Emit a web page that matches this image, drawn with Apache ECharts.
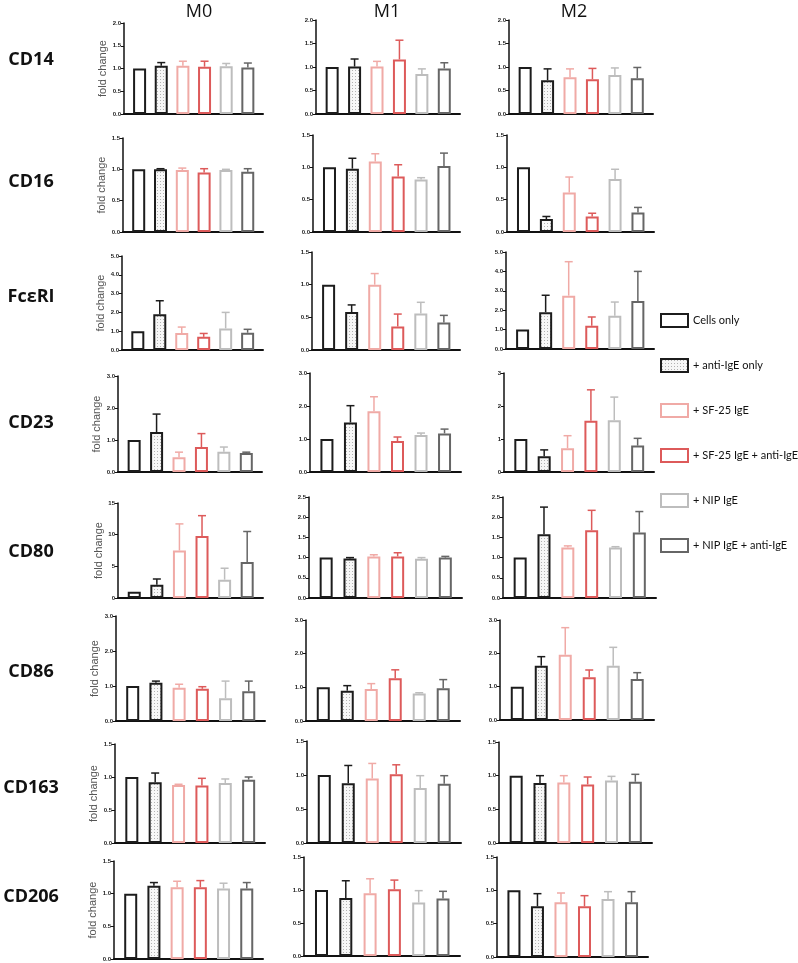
<!DOCTYPE html>
<html>
<head>
<meta charset="utf-8">
<script src="https://cdn.jsdelivr.net/npm/echarts@6/dist/echarts.min.js"></script>
<style>
html,body{margin:0;padding:0;background:#fff;}
#main{width:798px;height:963px;}
</style>
</head>
<body>
<div id="main"></div>
<script>
// ---------- DATA ----------
const categories = ['Cells only', '+ anti-IgE only', '+ SF-25 IgE', '+ SF-25 IgE + anti-IgE', '+ NIP IgE', '+ NIP IgE + anti-IgE'];
const groups = ['M0', 'M1', 'M2'];
const markers = ['CD14', 'CD16', 'FcεRI', 'CD23', 'CD80', 'CD86', 'CD163', 'CD206'];

// mean fold change, per marker: [M0, M1, M2]
const CD14_mean  = [[1.0, 1.06, 1.06, 1.04, 1.05, 1.02], [1.0, 1.01, 1.01, 1.16, 0.85, 0.97], [1.0, 0.72, 0.78, 0.74, 0.83, 0.76]];
const CD16_mean  = [[1.0, 1.0, 0.99, 0.95, 0.99, 0.96], [1.0, 0.98, 1.09, 0.86, 0.81, 1.02], [1.0, 0.20, 0.61, 0.24, 0.82, 0.30]];
const FceRI_mean = [[1.0, 1.90, 0.90, 0.70, 1.15, 0.92], [1.0, 0.58, 1.0, 0.36, 0.56, 0.42], [1.0, 1.90, 2.75, 1.20, 1.72, 2.48]];
const CD23_mean  = [[1.0, 1.25, 0.46, 0.78, 0.63, 0.59], [1.0, 1.50, 1.84, 0.94, 1.12, 1.17], [1.0, 0.48, 0.72, 1.55, 1.57, 0.80]];
const CD80_mean  = [[1.0, 2.1, 7.5, 9.8, 2.9, 5.7], [1.0, 0.98, 1.03, 1.03, 0.97, 1.0], [1.0, 1.58, 1.25, 1.68, 1.25, 1.62]];
const CD86_mean  = [[1.0, 1.09, 0.95, 0.92, 0.65, 0.85], [1.0, 0.90, 0.95, 1.27, 0.82, 0.97], [1.0, 1.63, 1.96, 1.28, 1.63, 1.23]];
const CD163_mean = [[1.0, 0.92, 0.88, 0.87, 0.91, 0.96], [1.0, 0.88, 0.95, 1.01, 0.81, 0.87], [1.0, 0.89, 0.90, 0.87, 0.93, 0.91]];
const CD206_mean = [[1.0, 1.12, 1.10, 1.10, 1.08, 1.08], [1.0, 0.88, 0.95, 1.01, 0.81, 0.87], [1.0, 0.76, 0.82, 0.76, 0.87, 0.82]];

// top of error bar (mean + error), null = no error bar
const CD14_err  = [[null, 1.13, 1.16, 1.16, 1.11, 1.12], [null, 1.17, 1.12, 1.57, 0.96, 1.09], [null, 0.96, 0.96, 0.97, 0.98, 0.99]];
const CD16_err  = [[null, 1.01, 1.02, 1.01, 1.0, 1.01], [null, 1.14, 1.21, 1.04, 0.84, 1.22], [null, 0.24, 0.85, 0.29, 0.97, 0.38]];
const FceRI_err = [[null, 2.62, 1.22, 0.88, 2.0, 1.10], [null, 0.69, 1.17, 0.55, 0.73, 0.53], [null, 2.77, 4.5, 1.65, 2.42, 4.0]];
const CD23_err  = [[null, 1.81, 0.62, 1.20, 0.78, 0.62], [null, 2.01, 2.28, 1.06, 1.18, 1.30], [null, 0.67, 1.10, 2.49, 2.27, 1.02]];
const CD80_err  = [[null, 3.0, 11.7, 13.0, 4.7, 10.5], [null, 1.0, 1.07, 1.12, 1.0, 1.03], [null, 2.25, 1.29, 2.17, 1.27, 2.14]];
const CD86_err  = [[null, 1.14, 1.05, 0.98, 1.14, 1.14], [null, 1.05, 1.11, 1.52, 0.84, 1.23], [null, 1.90, 2.77, 1.50, 2.18, 1.42]];
const CD163_err = [[null, 1.06, 0.89, 0.98, 0.97, 1.0], [null, 1.14, 1.17, 1.15, 0.99, 0.99], [null, 1.0, 1.0, 0.98, 0.99, 1.02]];
const CD206_err = [[null, 1.17, 1.19, 1.20, 1.16, 1.17], [null, 1.14, 1.17, 1.15, 0.99, 0.98], [null, 0.95, 0.96, 0.92, 0.98, 0.98]];

// y axis: [max, interval, label decimals]
const CD14_axis  = [[2, 0.5, 1], [2, 0.5, 1], [2, 0.5, 1]];
const CD16_axis  = [[1.5, 0.5, 1], [1.5, 0.5, 1], [1.5, 0.5, 1]];
const FceRI_axis = [[5, 1, 1], [1.5, 0.5, 1], [5, 1, 1]];
const CD23_axis  = [[3, 1, 1], [3, 1, 1], [3, 1, 0]];
const CD80_axis  = [[15, 5, 0], [2.5, 0.5, 1], [2.5, 0.5, 1]];
const CD86_axis  = [[3, 1, 1], [3, 1, 1], [3, 1, 1]];
const CD163_axis = [[1.5, 0.5, 1], [1.5, 0.5, 1], [1.5, 0.5, 1]];
const CD206_axis = [[1.5, 0.5, 1], [1.5, 0.5, 1], [1.5, 0.5, 1]];

const meanTable = [CD14_mean, CD16_mean, FceRI_mean, CD23_mean, CD80_mean, CD86_mean, CD163_mean, CD206_mean];
const errTable  = [CD14_err, CD16_err, FceRI_err, CD23_err, CD80_err, CD86_err, CD163_err, CD206_err];
const axisTable = [CD14_axis, CD16_axis, FceRI_axis, CD23_axis, CD80_axis, CD86_axis, CD163_axis, CD206_axis];

// ---------- LAYOUT / STYLE ----------
// per row, per column: [axisLeft, axisRight, top, bottom] in px
const layout = [
  [[124, 263, 23, 114], [316, 460, 20, 114], [509, 653, 20, 114]],
  [[123, 263, 138, 232], [313, 460, 135, 232], [507, 654, 135, 232]],
  [[122, 263, 256, 350], [312, 460, 252, 350], [506, 654, 252, 349]],
  [[118, 262, 376, 472], [310, 461, 373, 472], [504, 654, 373, 472]],
  [[118, 263, 503, 598], [309, 462, 497, 598], [503, 656, 497, 598]],
  [[116, 265, 616, 721], [306, 460, 620, 721], [500, 654, 620, 720]],
  [[115, 265, 744, 843], [307, 461, 741, 843], [499, 652, 742, 843]],
  [[114, 263, 861, 959], [304, 460, 857, 956], [497, 648, 857, 957]]
];
const rowLabelY = [60, 182, 297, 423, 552, 672, 788, 897];
const colTitleX = [199, 387, 574];
const colors = ['#1c1c1c', '#1c1c1c', '#f0aaa6', '#dd5a5a', '#bdbdbd', '#666666'];

// dotted pattern for "+ anti-IgE only"
const pat = document.createElement('canvas');
pat.width = 3; pat.height = 3;
(function () {
  const ctx = pat.getContext('2d');
  ctx.fillStyle = '#f7f7f7'; ctx.fillRect(0, 0, 3, 3);
  ctx.fillStyle = '#b2b2b2';
  ctx.fillRect(1, 1, 1, 1);
})();
const patternFill = { image: pat, repeat: 'repeat' };

const grids = [], xAxes = [], yAxes = [], series = [];
markers.forEach((mk, r) => {
  groups.forEach((gname, c) => {
    const g = r * 3 + c;
    const L = layout[r][c];
    const ax = axisTable[r][c];
    const means = meanTable[r][c];
    const errs = errTable[r][c];
    grids.push({ left: L[0], top: L[2], width: L[1] - L[0], height: L[3] - L[2] });
    xAxes.push({
      gridIndex: g, type: 'value', min: -0.72, max: 5.7,
      axisLine: { show: true, onZero: false, lineStyle: { color: '#111', width: 2 } },
      axisTick: { show: false }, axisLabel: { show: false }, splitLine: { show: false }
    });
    const dec = ax[2];
    yAxes.push({
      gridIndex: g, type: 'value', min: 0, max: ax[0], interval: ax[1],
      axisLine: { show: true, onZero: false, lineStyle: { color: '#111', width: 1.5 } },
      axisTick: { show: true, length: 3, lineStyle: { color: '#111', width: 1 } },
      axisLabel: { fontSize: 6, fontWeight: 'bold', color: '#222', margin: 3, fontFamily: 'Liberation Sans',
        formatter: v => v.toFixed(dec) },
      splitLine: { show: false },
      name: c === 0 ? 'fold change' : '',
      nameLocation: 'middle', nameGap: 12, nameRotate: 90,
      nameTextStyle: { fontSize: 11, color: '#555', fontFamily: 'Liberation Sans' }
    });
    categories.forEach((cat, i) => {
      series.push({
        type: 'bar', name: cat, xAxisIndex: g, yAxisIndex: g,
        barWidth: 13, barGap: '-100%',
        data: [[i, means[i]]],
        itemStyle: { color: i === 1 ? patternFill : '#ffffff', borderColor: colors[i], borderWidth: 2 },
        emphasis: { disabled: true }, silent: true, z: 2
      });
    });
    const errData = [];
    errs.forEach((e, i) => { if (e !== null) errData.push([i, means[i], e, i]); });
    series.push({
      type: 'custom', xAxisIndex: g, yAxisIndex: g, silent: true, z: 3,
      encode: { x: 0, y: [1, 2] },
      data: errData,
      renderItem: function (params, api) {
        const x = api.value(0), m = api.value(1), t = api.value(2), k = api.value(3);
        const a = api.coord([x, m]), b = api.coord([x, t]);
        const col = colors[k];
        return {
          type: 'group', children: [
            { type: 'line', shape: { x1: a[0], y1: a[1], x2: b[0], y2: b[1] }, style: { stroke: col, lineWidth: 1.5 } },
            { type: 'line', shape: { x1: b[0] - 4, y1: b[1], x2: b[0] + 4, y2: b[1] }, style: { stroke: col, lineWidth: 1.5 } }
          ]
        };
      }
    });
  });
});

const graphics = [];
markers.forEach((mk, r) => {
  graphics.push({
    type: 'text', x: 31, y: rowLabelY[r], silent: true,
    style: { text: mk, font: 'bold 18px "Open Sans"', fill: '#111',
      align: 'center', verticalAlign: 'middle', textAlign: 'center', textVerticalAlign: 'middle' }
  });
});
groups.forEach((gname, c) => {
  graphics.push({
    type: 'text', x: colTitleX[c], y: 12, silent: true,
    style: { text: gname, font: '18px "Open Sans"', fill: '#111',
      align: 'center', verticalAlign: 'middle', textAlign: 'center', textVerticalAlign: 'middle' }
  });
});

const chart = echarts.init(document.getElementById('main'), null, { renderer: 'canvas' });
chart.setOption({
  animation: false,
  backgroundColor: '#ffffff',
  grid: grids,
  xAxis: xAxes,
  yAxis: yAxes,
  legend: {
    data: categories, orient: 'vertical', left: 660, top: 313, padding: 0,
    itemWidth: 27, itemHeight: 13, itemGap: 30, icon: 'rect', selectedMode: false,
    textStyle: { fontSize: 11, fontFamily: 'Lato', color: '#111' }
  },
  graphic: graphics,
  series: series
});
</script>
</body>
</html>
